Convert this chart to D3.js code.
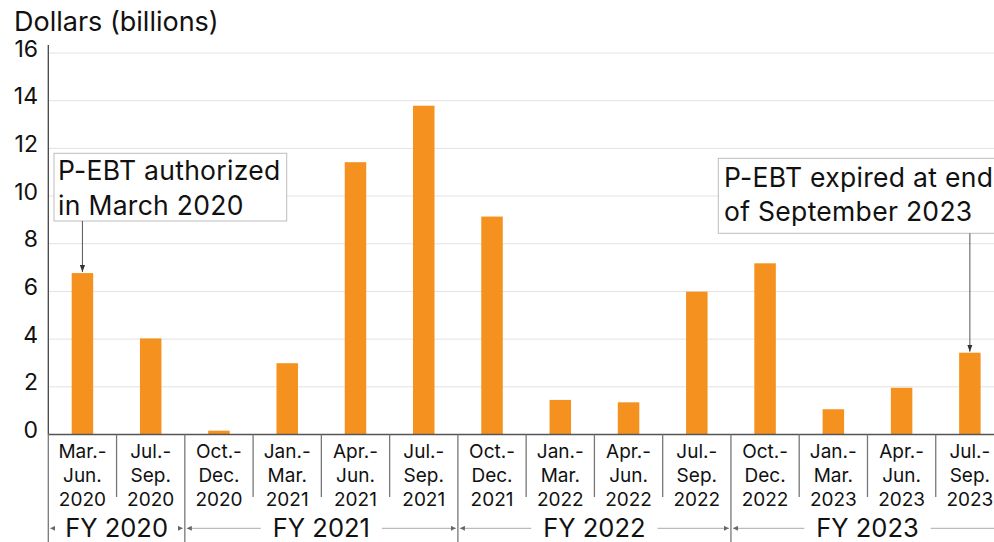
<!DOCTYPE html>
<html>
<head>
<meta charset="utf-8">
<script src="https://cdn.jsdelivr.net/npm/d3@7"></script>
<style>
  html, body { margin: 0; padding: 0; background: #fff; overflow: hidden; }
  svg { display: block; font-family: "Inter", "Liberation Sans", sans-serif; }
</style>
</head>
<body>
<svg id="chart" width="994" height="542"></svg>
<script>
// quarterly P-EBT spending, billions of dollars
const periods = [
    ["Mar.-", "Jun.", "2020"], ["Jul.-", "Sep.", "2020"],
    ["Oct.-", "Dec.", "2020"], ["Jan.-", "Mar.", "2021"], ["Apr.-", "Jun.", "2021"], ["Jul.-", "Sep.", "2021"],
    ["Oct.-", "Dec.", "2021"], ["Jan.-", "Mar.", "2022"], ["Apr.-", "Jun.", "2022"], ["Jul.-", "Sep.", "2022"],
    ["Oct.-", "Dec.", "2022"], ["Jan.-", "Mar.", "2023"], ["Apr.-", "Jun.", "2023"], ["Jul.-", "Sep.", "2023"]
];
const spending = [6.77, 4.03, 0.16, 2.99, 11.42, 13.79, 9.14, 1.45, 1.35, 5.99, 7.18, 1.06, 1.96, 3.43];
const fiscalYears = ["FY 2020", "FY 2021", "FY 2022", "FY 2023"];
const fyFirstPeriod = [0, 2, 6, 10];
const yTicks = [0, 2, 4, 6, 8, 10, 12, 14, 16];

const svg = d3.select("#chart");
const plotLeft = 48.3, plotRight = 1004, plotTop = 53, plotBottom = 434.5;

const x = d3.scaleBand()
    .domain(d3.range(periods.length))
    .range([plotLeft, plotRight])
    .paddingInner(0)
    .paddingOuter(0);

const y = d3.scaleLinear().domain([0, 16]).range([plotBottom, plotTop]);

const barWidth = 21.5;
const orange = "#f5921f";

// y title
svg.append("text")
    .attr("x", 14)
    .attr("y", 31)
    .attr("font-size", 27)
    .attr("fill", "#111")
    .text("Dollars (billions)");

// gridlines
svg.append("g")
    .selectAll("line")
    .data(yTicks.filter(d => d > 0))
    .enter().append("line")
    .attr("x1", plotLeft)
    .attr("x2", 994)
    .attr("y1", d => y(d))
    .attr("y2", d => y(d))
    .attr("stroke", "#e2e2e2")
    .attr("stroke-width", 1);

// y tick labels
svg.append("g")
    .selectAll("text")
    .data(yTicks)
    .enter().append("text")
    .attr("x", 38)
    .attr("y", d => y(d) + 3.6)
    .attr("text-anchor", "end")
    .attr("font-size", 23)
    .attr("fill", "#111")
    .text(d => d);

// bars
svg.append("g")
    .selectAll("rect")
    .data(spending)
    .enter().append("rect")
    .attr("x", (d, i) => x(i) + x.bandwidth() / 2 - barWidth / 2)
    .attr("width", barWidth)
    .attr("y", d => y(d))
    .attr("height", d => y(0) - y(d))
    .attr("fill", orange);

// axis lines
svg.append("line")
    .attr("x1", plotLeft).attr("x2", plotLeft)
    .attr("y1", 45).attr("y2", plotBottom)
    .attr("stroke", "#444").attr("stroke-width", 1.3);

svg.append("line")
    .attr("x1", plotLeft).attr("x2", 994)
    .attr("y1", plotBottom).attr("y2", plotBottom)
    .attr("stroke", "#555").attr("stroke-width", 1.6);

// period dividers (long ones mark fiscal years)
const boundaries = d3.range(periods.length);
svg.append("g")
    .selectAll("line")
    .data(boundaries)
    .enter().append("line")
    .attr("x1", i => x(i))
    .attr("x2", i => x(i))
    .attr("y1", plotBottom)
    .attr("y2", i => fyFirstPeriod.includes(i) ? 542 : 497)
    .attr("stroke", "#777")
    .attr("stroke-width", 1.3);

// period labels
const labels = svg.append("g")
    .selectAll("text")
    .data(periods)
    .enter().append("text")
    .attr("text-anchor", "middle")
    .attr("font-size", 19)
    .attr("fill", "#111");

labels.selectAll("tspan")
    .data((d, i) => d.map(t => ({ t: t, i: i })))
    .enter().append("tspan")
    .attr("x", d => x(d.i) + x.bandwidth() / 2)
    .attr("y", (d, j) => 457.5 + j * 24.3)
    .text(d => d.t);

// fiscal year labels with bracket lines
const defs = svg.append("defs");
defs.append("marker")
    .attr("id", "tip")
    .attr("viewBox", "0 0 6 6")
    .attr("refX", 6).attr("refY", 3)
    .attr("markerWidth", 5).attr("markerHeight", 5)
    .attr("orient", "auto")
    .append("path")
    .attr("d", "M0,0L6,3L0,6Z")
    .attr("fill", "#666");

const fyY = 528.3;
fiscalYears.forEach((fy, k) => {
    const x0 = x(fyFirstPeriod[k]);
    const x1 = k < fiscalYears.length - 1 ? x(fyFirstPeriod[k + 1]) : plotRight;
    const cx = (x0 + x1) / 2;
    const t = svg.append("text")
        .attr("x", cx)
        .attr("y", 536.7)
        .attr("text-anchor", "middle")
        .attr("font-size", 25.5)
        .attr("fill", "#111")
        .text(fy);
    const w = t.node().getComputedTextLength();
    const gap = 12;
    svg.append("line")
        .attr("x1", cx - w / 2 - gap).attr("x2", x0 + 2)
        .attr("y1", fyY).attr("y2", fyY)
        .attr("stroke", "#aaa").attr("stroke-width", 1)
        .attr("marker-end", "url(#tip)");
    svg.append("line")
        .attr("x1", cx + w / 2 + gap).attr("x2", x1 - 2)
        .attr("y1", fyY).attr("y2", fyY)
        .attr("stroke", "#aaa").attr("stroke-width", 1)
        .attr("marker-end", "url(#tip)");
});

// annotations
defs.append("marker")
    .attr("id", "arrow")
    .attr("viewBox", "0 0 8 8")
    .attr("refX", 8).attr("refY", 4)
    .attr("markerWidth", 7).attr("markerHeight", 7)
    .attr("orient", "auto")
    .append("path")
    .attr("d", "M0,1L8,4L0,7Z")
    .attr("fill", "#333");

const notes = [
    { i: 0, lines: ["P-EBT authorized", "in March 2020"], box: [54, 153.3, 232.7, 67.7], textX: 58, base: 180 },
    { i: 13, lines: ["P-EBT expired at end", "of September 2023"], box: [718.3, 158.3, 290, 75], textX: 724, base: 186.7 }
];

notes.forEach(n => {
    const g = svg.append("g");
    g.append("rect")
        .attr("x", n.box[0]).attr("y", n.box[1])
        .attr("width", n.box[2]).attr("height", n.box[3])
        .attr("fill", "#fff")
        .attr("stroke", "#bdbdbd").attr("stroke-width", 1);
    n.lines.forEach((l, j) => {
        g.append("text")
            .attr("x", n.textX)
            .attr("y", n.base + j * 34.5)
            .attr("font-size", 26.5)
            .attr("letter-spacing", 0.3)
            .attr("fill", "#111")
            .text(l);
    });
    const ax = x(n.i) + x.bandwidth() / 2;
    g.append("line")
        .attr("x1", ax).attr("x2", ax)
        .attr("y1", n.box[1] + n.box[3])
        .attr("y2", y(spending[n.i]) - 1)
        .attr("stroke", "#555").attr("stroke-width", 1)
        .attr("marker-end", "url(#arrow)");
});
</script>
</body>
</html>
